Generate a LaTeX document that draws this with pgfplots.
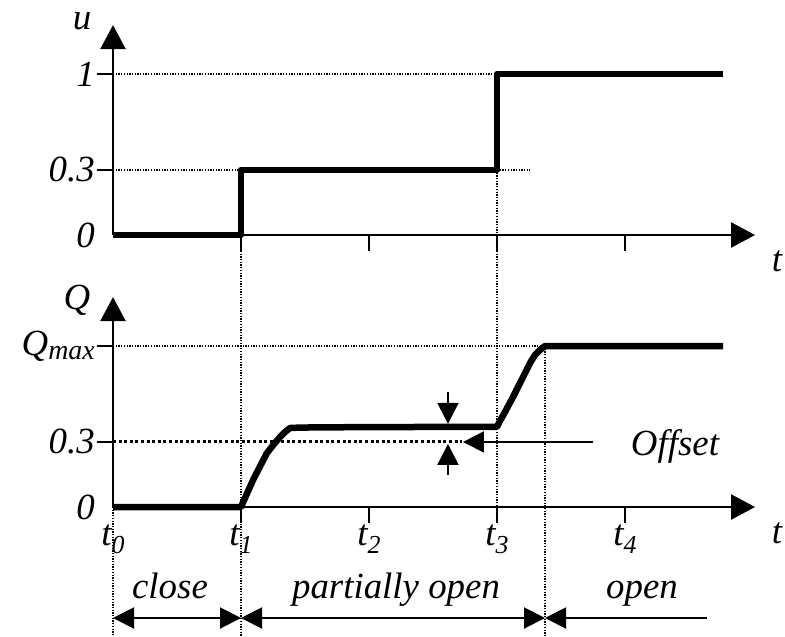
\documentclass[border=0pt]{standalone}
\usepackage{pgfplots}
\pgfplotsset{compat=1.18}
\usepackage{fontspec}
\setmainfont{Liberation Serif}
\usetikzlibrary{arrows.meta}

\newcommand\lbl{\fontsize{37}{40}\selectfont\itshape}
\newcommand\sub[1]{\raisebox{-0.2em}{\fontsize{26}{28}\selectfont #1}}

% schematic value axis: 0..0.3 is stretched, 0.3..1 is compressed
\pgfplotsset{
  valve/.style={
    x=128bp, y=161bp,
    axis lines*=left,
    axis line style={line width=2.4bp, -{Triangle[length=24bp,width=25bp]}},
    y coord trafo/.code={\pgfmathparse{ifthenelse(##1<=0.3, ##1*1.346667, 0.404+(##1-0.3)*0.851429)}},
    xmin=0, xmax=5.016, ymin=0, ymax=1.357,
    tick align=outside,
    major tick length=16bp,
    every tick/.style={line width=2bp, black},
    xtick={1,2,3,4},
    ytick={0.3,1},
    extra y ticks={0},
    extra y tick labels={0},
    extra y tick style={major tick style={draw=none}},
    clip=false,
    anchor=origin,
    every tick label/.append style={font=\lbl},
    yticklabel style={anchor=east, inner sep=2bp},
    xticklabel style={anchor=north, inner sep=2bp},
  },
}
\tikzset{
  guide/.style={line width=1.3bp, dash pattern=on 1.3bp off 1.4bp},
  thickguide/.style={line width=3bp, dash pattern=on 3bp off 2.6bp},
  curve/.style={line width=6.5bp, line join=round, black},
  harrow/.style={line width=2bp, -{Triangle[length=21bp,width=21bp]}},
  phase/.style={line width=2bp},
}

\begin{document}
\begin{tikzpicture}
% input signal u
\begin{axis}[valve, at={(113bp,-235bp)}, xticklabels={{},{},{},{}},
  yticklabels={0.3,1}]
  \addplot[curve] coordinates {(0,0) (1,0) (1,0.3) (3,0.3) (3,1) (4.766,1)};
  \draw[guide] (axis cs:0,1) -- (axis cs:3,1);
  \draw[guide] (axis cs:0,0.3) -- (axis cs:1,0.3);
  \draw[guide] (axis cs:3,0.3) -- (axis cs:3.258,0.3);
  \coordinate (uA) at (axis cs:1,0.3);
  \coordinate (uB) at (axis cs:3,0.3);
\end{axis}

% flow Q
\begin{axis}[valve, at={(113bp,-507bp)},
  xticklabels={t\sub{1},t\sub{2},t\sub{3},t\sub{4}},
  extra x ticks={0}, extra x tick labels={t\sub{0}},
  extra x tick style={major tick style={draw=none}},
  yticklabels={0.3,Q\raisebox{-0.12em}{\fontsize{28}{30}\selectfont max}}]
  \addplot[curve] coordinates {
    (0,0) (1,0) (1.047,0.0623) (1.094,0.1245) (1.148,0.1868) (1.203,0.2491)
    (1.258,0.2906) (1.305,0.3362) (1.344,0.3726) (1.383,0.4018) (1.461,0.405)
    (1.719,0.407) (2.242,0.409) (3.0,0.41)
    (3.023,0.4528) (3.0625,0.5187) (3.125,0.628) (3.1875,0.7447) (3.258,0.876)
    (3.297,0.9343) (3.336,0.9709) (3.375,1) (4.766,1)};
  \draw[guide] (axis cs:0,1) -- (axis cs:3.375,1);
  \draw[thickguide] (axis cs:0,0.3) -- (axis cs:2.73,0.3);
  \draw[harrow] (axis cs:3.75,0.3) -- (axis cs:2.734,0.3);
  \draw[harrow] ([yshift=35bp]axis cs:2.617,0.41) -- ([yshift=3bp]axis cs:2.617,0.41);
  \draw[harrow] ([yshift=-33bp]axis cs:2.617,0.3) -- ([yshift=-2bp]axis cs:2.617,0.3);
  \coordinate (q0) at (axis cs:0,0);
  \coordinate (q1) at (axis cs:1,0);
  \coordinate (q3) at (axis cs:3,0);
  \coordinate (qM) at (axis cs:3.375,1);
  \coordinate (qMb) at (axis cs:3.375,0);
\end{axis}

% vertical time markers
\draw[guide] (uA) -- (uA |- 0,-637bp);
\draw[guide] (uB) -- ([yshift=-6bp]q3);
\draw[guide] (qM) -- (qM |- 0,-637bp);
\draw[guide] (q0) -- (q0 |- 0,-637bp);

% operating phases
\draw[phase, {Triangle[length=21bp,width=21bp]}-{Triangle[length=21bp,width=21bp]}]
  (q0 |- 0,-618bp) -- (q1 |- 0,-618bp);
\draw[phase, {Triangle[length=21bp,width=21bp]}-{Triangle[length=21bp,width=21bp]}]
  (q1 |- 0,-618bp) -- (qMb |- 0,-618bp);
\draw[phase, {Triangle[length=21bp,width=21bp]}-]
  (qMb |- 0,-618bp) -- (707bp,-618bp);
\node[font=\lbl, anchor=base] at (170bp,-598bp) {close};
\node[font=\lbl, anchor=base] at (396bp,-598bp) {partially open};
\node[font=\lbl, anchor=base] at (642bp,-598bp) {open};
\node[font=\lbl, anchor=base] at (675bp,-455bp) {Offset};

% axis names
\node[font=\lbl, inner sep=0pt] at (82bp,-21bp) {u};
\node[font=\lbl, inner sep=0pt] at (77bp,-300bp) {Q};
\node[font=\lbl, inner sep=0pt] at (777bp,-261bp) {t};
\node[font=\lbl, inner sep=0pt] at (777bp,-533bp) {t};

\pgfresetboundingbox
\path (0,0) rectangle (785bp,-637bp);
\end{tikzpicture}
\end{document}
